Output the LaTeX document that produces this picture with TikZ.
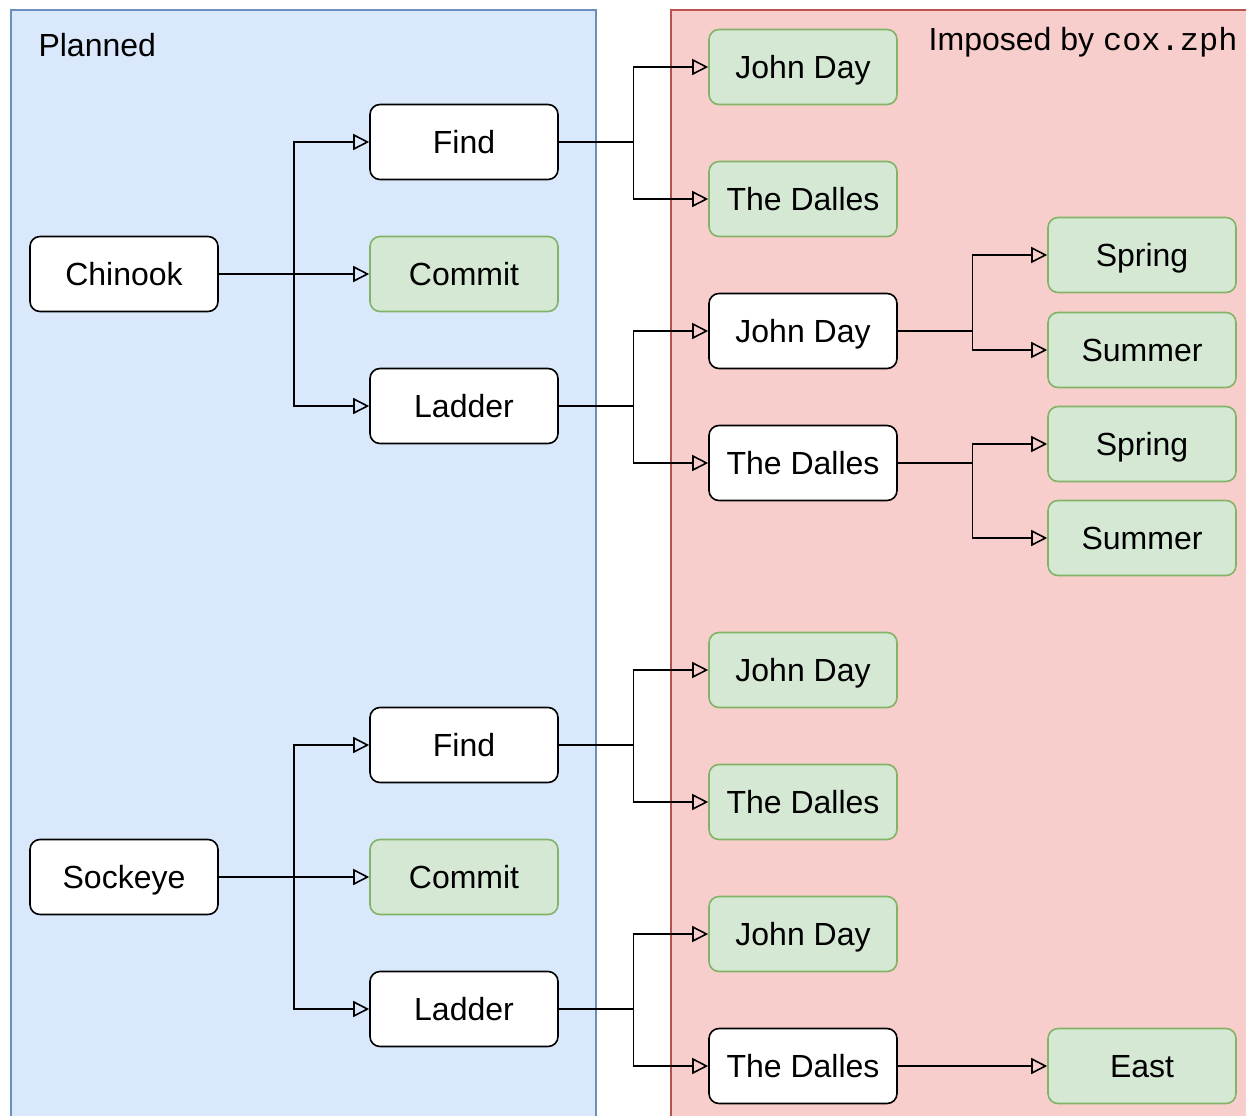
\documentclass[tikz,border=0pt]{standalone}
\usepackage{fontspec}
\setmainfont{Liberation Sans}
\setmonofont{Liberation Mono}
\usetikzlibrary{calc,arrows.meta}

\definecolor{planfill}{HTML}{DAE8FC}
\definecolor{planline}{HTML}{6C8EBF}
\definecolor{zphfill}{HTML}{F8CECC}
\definecolor{zphline}{HTML}{B85450}
\definecolor{okfill}{HTML}{D5E8D4}
\definecolor{okline}{HTML}{82B366}

\tikzset{
  box/.style={draw=black, fill=white, line width=1.6pt, rounded corners=10pt,
    minimum width=188pt, minimum height=75pt, inner sep=0pt,
    text height=23pt, text depth=0pt,
    font=\fontsize{32}{37}\selectfont},
  fixed/.style={box, draw=okline, fill=okfill},
  link/.style={line width=1.6pt, -{Triangle[open,length=16pt,width=16pt]}}
}

\begin{document}
\begin{tikzpicture}[x=1pt,y=-1pt]
                \useasboundingbox(0,0)rectangle(1246,1115);
                \draw[planline,fill=planfill,line width=1.6pt](11,10)rectangle(596,1130);
                \draw[zphline,fill=zphfill,line width=1.6pt](671,10)rectangle(1260,1130);
                \node[anchor=west,font=\fontsize{32}{37}\selectfont](planned)at(35,45){Planned};
                \node[anchor=east,font=\fontsize{32}{37}\selectfont](imposed)at(1241,42){Imposed by \texttt{cox.zph}};
                % Chinook
                \node[box](chi)at(124,274){Chinook};
                \node[box](find1)at(464,142){Find};
                \node[fixed](com1)at(464,274){Commit};
                \node[box](lad1)at(464,406){Ladder};
                \node[fixed](jd1)at(803,67){John Day};
                \node[fixed](td1)at(803,199){The Dalles};
                \node[box](jd2)at(803,331){John Day};
                \node[box](td2)at(803,463){The Dalles};
                \node[fixed](spr1)at(1142,255){Spring};
                \node[fixed](sum1)at(1142,350){Summer};
                \node[fixed](spr2)at(1142,444){Spring};
                \node[fixed](sum2)at(1142,538){Summer};
                % Sockeye
                \node[box](soc)at(124,877){Sockeye};
                \node[box](find2)at(464,745){Find};
                \node[fixed](com2)at(464,877){Commit};
                \node[box](lad2)at(464,1009){Ladder};
                \node[fixed](jd3)at(803,670){John Day};
                \node[fixed](td3)at(803,802){The Dalles};
                \node[fixed](jd4)at(803,934){John Day};
                \node[box](td4)at(803,1066){The Dalles};
                \node[fixed](east)at(1142,1066){East};
                \foreach \a/\b in {chi/find1,chi/com1,chi/lad1,find1/jd1,find1/td1,lad1/jd2,lad1/td2,
                                   jd2/spr1,jd2/sum1,td2/spr2,td2/sum2,
                                   soc/find2,soc/com2,soc/lad2,find2/jd3,find2/td3,lad2/jd4,lad2/td4,td4/east}{
                  \coordinate(m)at($(\a.east)!.5!(\b.west)$);
                  \draw[link](\a.east)--(m|-\a.east)|-(\b.west);
                }
            \end{tikzpicture}
\end{document}
